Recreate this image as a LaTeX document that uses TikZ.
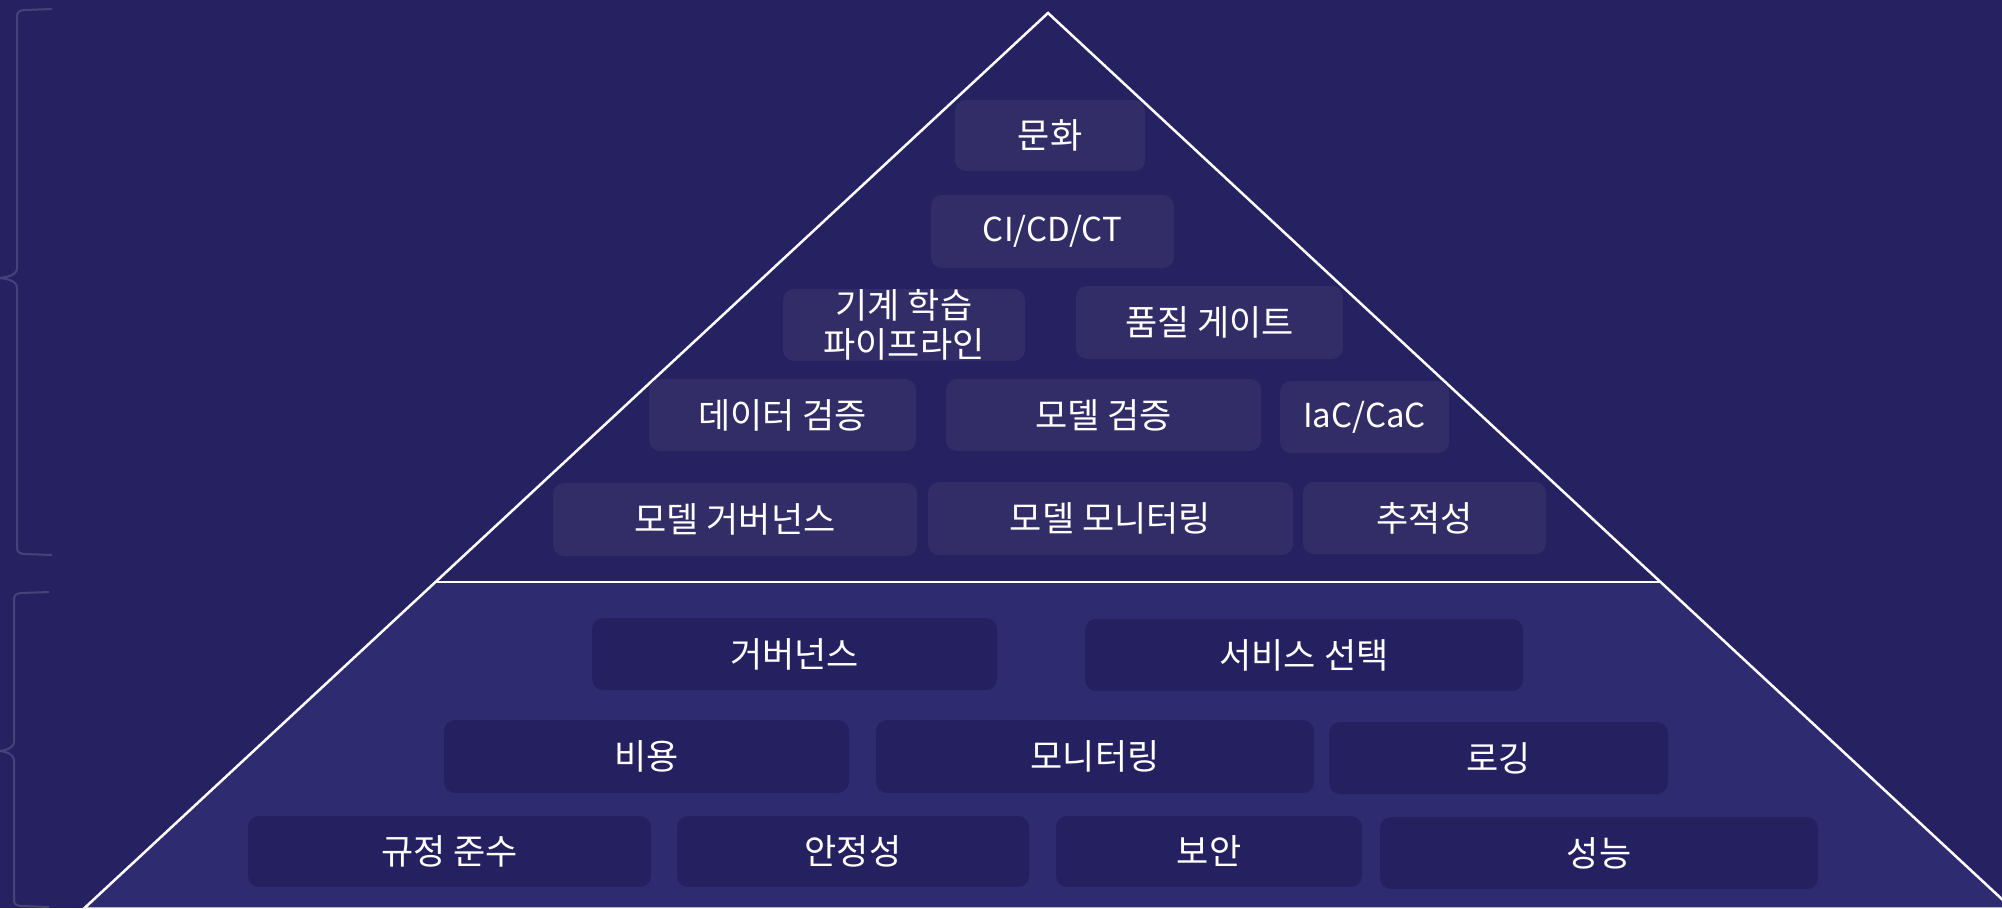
\documentclass[tikz,border=0pt]{standalone}
\usepackage{fontspec}
\setmainfont{Noto Sans CJK KR}
\definecolor{bg}{HTML}{262262}
\definecolor{lowfill}{HTML}{2F2B70}
\definecolor{upbox}{HTML}{322D66}
\definecolor{lowbox}{HTML}{252161}
\definecolor{bracec}{HTML}{46427A}
\tikzset{
  boxbase/.style={rounded corners=11pt, inner sep=0pt, align=center, text=white,
    font=\fontsize{35}{39}\selectfont},
  latin/.style={font=\fontsize{33}{39}\selectfont},
  ubox/.style={boxbase, fill=upbox},
  lbox/.style={boxbase, fill=lowbox},
  edge/.style={white, line width=2.5pt},
  bracestyle/.style={bracec, line width=2pt}
}
\begin{document}
\begin{tikzpicture}[x=1pt,y=-1pt]
\useasboundingbox (0,0) rectangle (2002,908);
\fill[bg] (0,0) rectangle (2002,908);
\begin{scope}
\clip (0,0) rectangle (2002,908);
\coordinate (apex) at (1048,13);
\coordinate (dl) at (435,582);
\coordinate (dr) at (1661,582);
\coordinate (bl) at (84,908.5);
\coordinate (br) at (2012,908.5);
\fill[lowfill] (dl) -- (dr) -- (br) -- (bl) -- cycle;
\draw[edge] (apex) -- (bl) -- (br) -- cycle;
\draw[edge] (dl) -- (dr);
% braces
\draw[bracestyle] (52,9) -- (24,10) .. controls (19,10.5) and (17,12) .. (17,17)
  -- (17,268) .. controls (17,275) and (8,277) .. (0,278)
  .. controls (8,279) and (17,281) .. (17,288)
  -- (17,547) .. controls (17,552) and (19,553.5) .. (24,554) -- (52,555);
\draw[bracestyle] (49,592) -- (21,593) .. controls (16,593.5) and (14,595) .. (14,600)
  -- (14,741) .. controls (14,748) and (7,750) .. (0,751)
  .. controls (7,752) and (14,754) .. (14,761)
  -- (14,900) .. controls (14,904) and (16,905.5) .. (21,906) -- (49,907);
\end{scope}
% upper boxes
\node[ubox, minimum width=190pt, minimum height=71pt] (culture) at (1050,135.5) {문화};
\node[ubox, latin, minimum width=243pt, minimum height=73pt] (cicd) at (1052.5,231.5) {CI/CD/CT};
\node[ubox, minimum width=242pt, minimum height=72pt] (mlpipe) at (904,325) {기계 학습\\파이프라인};
\node[ubox, minimum width=267pt, minimum height=73pt] (gate) at (1209.5,322.5) {품질 게이트};
\node[ubox, minimum width=267pt, minimum height=72pt] (dataval) at (782.5,415) {데이터 검증};
\node[ubox, minimum width=315pt, minimum height=72pt] (modelval) at (1103.5,415) {모델 검증};
\node[ubox, latin, minimum width=169pt, minimum height=72pt] (iac) at (1364.5,417) {IaC/CaC};
\node[ubox, minimum width=364pt, minimum height=73pt] (mgov) at (735,519.5) {모델 거버넌스};
\node[ubox, minimum width=365pt, minimum height=73pt] (mmon) at (1110.5,518.5) {모델 모니터링};
\node[ubox, minimum width=243pt, minimum height=72pt] (trace) at (1424.5,518) {추적성};
% lower boxes
\node[lbox, minimum width=405pt, minimum height=72pt] (gov) at (794.5,654) {거버넌스};
\node[lbox, minimum width=438pt, minimum height=72pt] (svc) at (1304,655) {서비스 선택};
\node[lbox, minimum width=405pt, minimum height=73pt] (cost) at (646.5,756.5) {비용};
\node[lbox, minimum width=438pt, minimum height=73pt] (mon) at (1095,756.5) {모니터링};
\node[lbox, minimum width=339pt, minimum height=72pt] (log) at (1498.5,758) {로깅};
\node[lbox, minimum width=403pt, minimum height=71pt] (comp) at (449.5,851.5) {규정 준수};
\node[lbox, minimum width=352pt, minimum height=71pt] (rel) at (853,851.5) {안정성};
\node[lbox, minimum width=306pt, minimum height=71pt] (sec) at (1209,851.5) {보안};
\node[lbox, minimum width=438pt, minimum height=72pt] (perf) at (1599,853) {성능};
\end{tikzpicture}
\end{document}
